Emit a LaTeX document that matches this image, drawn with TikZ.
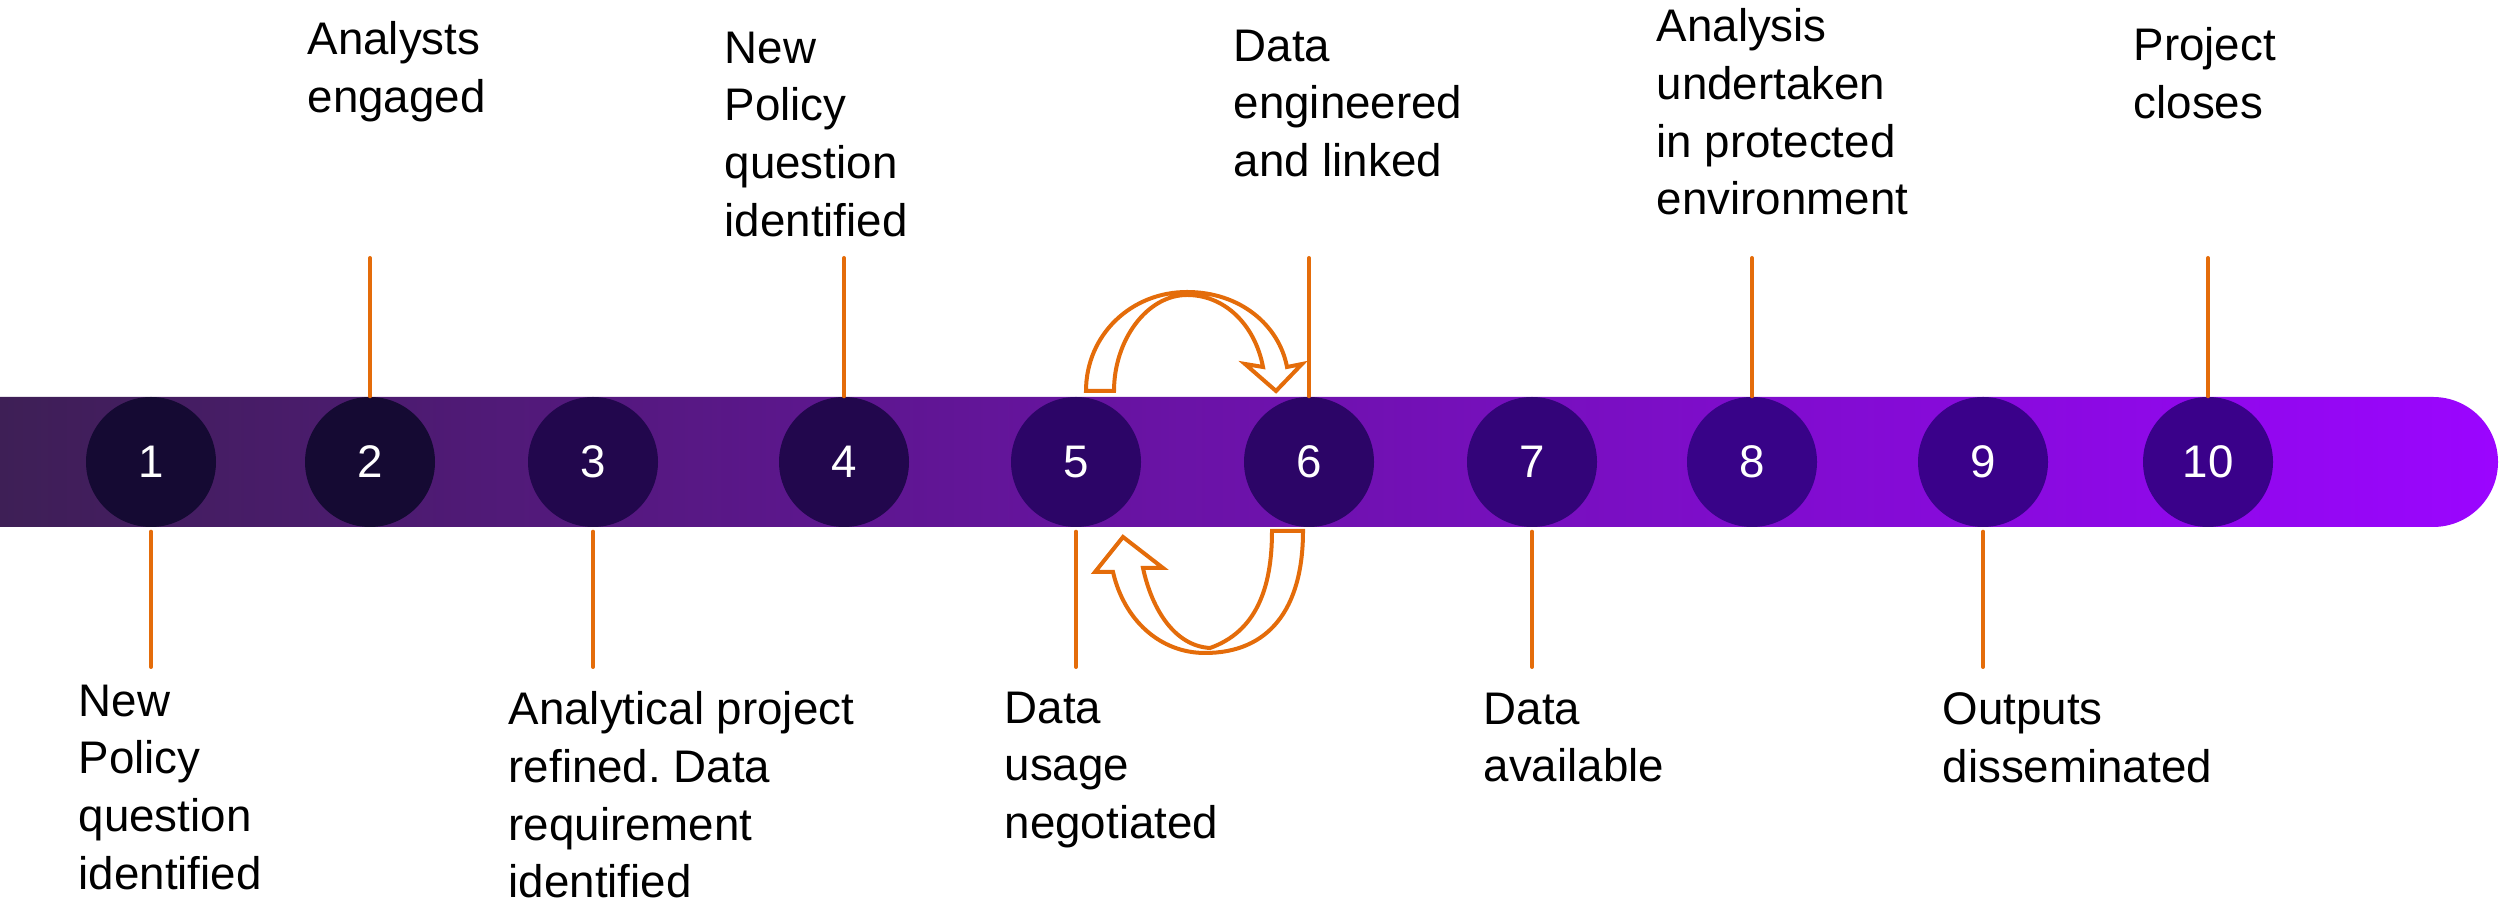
\documentclass[tikz,border=0pt]{standalone}
\usepackage{fontspec}
\setmainfont{Liberation Sans}
\usepackage{tikz}
\frenchspacing
\definecolor{barleft}{HTML}{3E1F56}
\definecolor{barright}{HTML}{9B05FF}
\definecolor{stemorange}{HTML}{E46C0A}
\definecolor{dotA}{HTML}{150A33}
\definecolor{dotB}{HTML}{22074D}
\definecolor{dotC}{HTML}{2C0567}
\definecolor{dotD}{HTML}{330479}
\definecolor{dotE}{HTML}{380388}
\definecolor{dotF}{HTML}{3A018A}
\tikzset{
  stage/.style={
    circle,
    minimum size=13mm,
    inner sep=0pt,
    text=white,
    font=\fontsize{13}{16.4}\selectfont
  },
  note/.style={
    anchor=north west,
    align=left,
    inner sep=0pt,
    font=\fontsize{13}{16.4}\selectfont,
    execute at begin node=\strut
  },
  stem/.style={
    draw=stemorange,
    line width=0.4mm,
    line cap=round
  },
  swap arrow/.style={
    draw=stemorange,
    fill=white,
    line width=0.4mm
  }
}

\begin{document}
\begin{tikzpicture}[x=0.1mm, y=-0.1mm]
   \useasboundingbox (0,0) rectangle (2503,904);

   % timeline bar
   \shade[left color=barleft, right color=barright]
      (0,397) -- (2433,397) arc[start angle=-90, end angle=90, radius=65] -- (0,527) -- cycle;

   \node[stage, fill=dotA] (s1)  at (151,462)  {1};
   \node[stage, fill=dotA] (s2)  at (370,462)  {2};
   \node[stage, fill=dotB] (s3)  at (593,462)  {3};
   \node[stage, fill=dotB] (s4)  at (844,462)  {4};
   \node[stage, fill=dotC] (s5)  at (1076,462) {5};
   \node[stage, fill=dotC] (s6)  at (1309,462) {6};
   \node[stage, fill=dotD] (s7)  at (1532,462) {7};
   \node[stage, fill=dotE] (s8)  at (1752,462) {8};
   \node[stage, fill=dotF] (s9)  at (1983,462) {9};
   \node[stage, fill=dotF] (s10) at (2208,462) {10};

   \coordinate (upper) at (0,258);
   \coordinate (lower) at (0,667);

   \draw[stem] (s2.north)  -- (s2.north |- upper);
   \draw[stem] (s4.north)  -- (s4.north |- upper);
   \draw[stem] (s6.north)  -- (s6.north |- upper);
   \draw[stem] (s8.north)  -- (s8.north |- upper);
   \draw[stem] (s10.north) -- (s10.north |- upper);
   \draw[stem] ([yshift=-0.4mm]s1.south) -- (s1.south |- lower);
   \draw[stem] ([yshift=-0.4mm]s3.south) -- (s3.south |- lower);
   \draw[stem] ([yshift=-0.4mm]s5.south) -- (s5.south |- lower);
   \draw[stem] ([yshift=-0.4mm]s7.south) -- (s7.south |- lower);
   \draw[stem] ([yshift=-0.4mm]s9.south) -- (s9.south |- lower);

   % curved arrows between 5 and 6
   \path[swap arrow] (1086,391) .. controls (1086,335) and (1131,292) .. (1187,292)
      .. controls (1240,292) and (1279,325) .. (1287,367)
      -- (1302,364) -- (1276,391) -- (1245,364) -- (1263,367)
      .. controls (1255,325) and (1225,295) .. (1187,295)
      .. controls (1147,295) and (1114,340) .. (1114,391) -- cycle;
   \path[swap arrow] (1303,531) .. controls (1303,610) and (1268,653) .. (1205,653)
      .. controls (1160,653) and (1124,620) .. (1113,572)
      -- (1095,572) -- (1123,537) -- (1163,568) -- (1143,568)
      .. controls (1152,610) and (1175,646) .. (1210,648)
      .. controls (1255,632) and (1272,590) .. (1272,531) -- cycle;

   \node[note] (t2)  at (307,21)  {Analysts\\engaged};
   \node[note] (t4)  at (724,31)  {New\\Policy\\question\\identified};
   \node[note] (t6)  at (1233,29) {Data\\engineered\\and linked};
   \node[note] (t8)  at (1656,8)  {Analysis\\undertaken\\in protected\\environment};
   \node[note] (t10) at (2133,27) {Project\\closes};
   \node[note] (t1)  at (78,684)   {New\\Policy\\question\\identified};
   \node[note] (t3)  at (508,691)  {Analytical project\\refined. Data\\requirement\\identified};
   \node[note] (t5)  at (1004,691) {Data\\usage\\negotiated};
   \node[note] (t7)  at (1483,692) {Data\\available};
   \node[note] (t9)  at (1942,692) {Outputs\\disseminated};
\end{tikzpicture}
\end{document}
